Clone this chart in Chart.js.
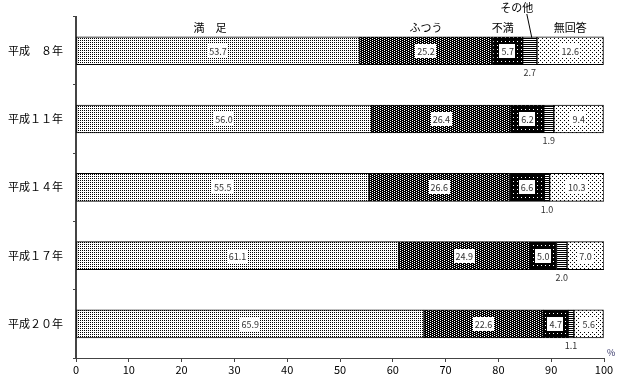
<!DOCTYPE html>
<html>
<head>
<meta charset="utf-8">
<script src="https://cdn.jsdelivr.net/npm/chart.js@4"></script>
<style>
    html, body { margin: 0; padding: 0; background: #fff; }
    #wrap { width: 622px; height: 381px; }
</style>
</head>
<body>
<div id="wrap"><canvas id="satisfactionChart" width="622" height="381"></canvas></div>
<script>
// 満足度の推移（％）
const years = ['平成　８年', '平成１１年', '平成１４年', '平成１７年', '平成２０年'];
const seriesNames = ['満　足', 'ふつう', '不満', 'その他', '無回答'];
const satisfied = [53.7, 56.0, 55.5, 61.1, 65.9];
const normal = [25.2, 26.4, 26.6, 24.9, 22.6];
const dissatisfied = [5.7, 6.2, 6.6, 5.0, 4.7];
const other = [2.7, 1.9, 1.0, 2.0, 1.1];
const noAnswer = [12.6, 9.4, 10.3, 7.0, 5.6];
const xTickStep = 10;

const FONT = '"Noto Sans CJK JP", "DejaVu Sans", sans-serif';

// 網掛けパターンを作る
function makePattern(w, h, bg, fg, dots) {
    const c = document.createElement('canvas');
    c.width = w;
    c.height = h;
    const g = c.getContext('2d');
    g.fillStyle = bg;
    g.fillRect(0, 0, w, h);
    g.fillStyle = fg;
    dots.forEach(([x, y]) => g.fillRect(x, y, 1, 1));
    const ctx = document.createElement('canvas').getContext('2d');
    return ctx.createPattern(c, 'repeat');
}

const patterns = [
    makePattern(2, 2, '#fff', '#000', [[0, 0]]),
    makePattern(4, 2, '#000', '#fff', [[0, 0], [2, 1]]),
    makePattern(4, 4, '#000', '#fff', [[1, 1]]),
    makePattern(1, 2, '#fff', '#000', [[0, 0]]),
    makePattern(4, 4, '#fff', '#000', [[0, 0], [2, 2]])
];

const seriesData = [satisfied, normal, dissatisfied, other, noAnswer];

// 数値ラベル・項目名を描くプラグイン
const labelPlugin = {
    id: 'barLabels',
    afterDatasetsDraw(chart) {
        const ctx = chart.ctx;
        ctx.save();
        ctx.textBaseline = 'middle';
        ctx.textAlign = 'center';

        chart.data.datasets.forEach((ds, i) => {
            const meta = chart.getDatasetMeta(i);
            meta.data.forEach((el, j) => {
                const cx = (el.x + el.base) / 2;
                const text = ds.data[j].toFixed(1);
                ctx.font = '9px ' + FONT;
                if (i === 3) {
                    ctx.fillStyle = '#333';
                    ctx.fillText(text, cx, el.y + el.height / 2 + 8);
                } else {
                    const tw = ctx.measureText(text).width;
                    ctx.fillStyle = '#fff';
                    ctx.fillRect(Math.round(cx - tw / 2 - 2), Math.round(el.y - 7), Math.round(tw + 4), 14);
                    ctx.fillStyle = '#333';
                    ctx.fillText(text, cx, el.y + 0.5);
                }
            });
        });

        // 先頭の行の上に項目名
        ctx.font = '11px ' + FONT;
        ctx.fillStyle = '#000';
        chart.data.datasets.forEach((ds, i) => {
            const el = chart.getDatasetMeta(i).data[0];
            const cx = (el.x + el.base) / 2;
            const top = el.y - el.height / 2;
            if (i === 3) {
                ctx.fillText(ds.label, cx - 13, 8);
                ctx.strokeStyle = '#000';
                ctx.lineWidth = 1;
                ctx.beginPath();
                ctx.moveTo(cx - 3, 14);
                ctx.lineTo(cx + 2, top + 1);
                ctx.stroke();
            } else if (i === 2) {
                ctx.fillText(ds.label, cx - 5, top - 9);
            } else {
                ctx.fillText(ds.label, cx - (i === 0 ? 8 : 0), top - 9);
            }
        });

        // ％ 記号
        const xs = chart.scales.x;
        ctx.font = '9px ' + FONT;
        ctx.fillStyle = '#336';
        ctx.textAlign = 'left';
        ctx.fillText('%', xs.right + 3, xs.top - 5);
        ctx.restore();
    }
};

const chartCtx = document.getElementById('satisfactionChart').getContext('2d');
new Chart(chartCtx, {
    type: 'bar',
    data: {
        labels: years,
        datasets: seriesNames.map((name, i) => ({
            label: name,
            data: seriesData[i],
            backgroundColor: patterns[i],
            borderColor: '#000',
            borderWidth: 1,
            borderSkipped: false,
            barThickness: 28
        }))
    },
    options: {
        indexAxis: 'y',
        responsive: false,
        animation: false,
        layout: { padding: { top: 15, right: 18, left: 0, bottom: 0 } },
        plugins: {
            legend: { display: false },
            tooltip: { enabled: false }
        },
        scales: {
            x: {
                stacked: true,
                min: 0,
                max: 100,
                ticks: {
                    stepSize: xTickStep,
                    color: '#000',
                    font: { family: FONT, size: 11 },
                    padding: 1,
                    maxRotation: 0
                },
                grid: {
                    drawOnChartArea: false,
                    drawTicks: true,
                    tickLength: 4,
                    color: '#444'
                },
                border: { color: '#444', width: 1 },
                afterFit: (scale) => { scale.height = 23; }
            },
            y: {
                stacked: true,
                ticks: {
                    color: '#000',
                    font: { family: FONT, size: 11 },
                    padding: 10
                },
                grid: {
                    offset: true,
                    drawOnChartArea: false,
                    tickLength: 3,
                    color: '#444'
                },
                border: { color: '#444', width: 2 },
                afterFit: (scale) => { scale.width = 76; }
            }
        }
    },
    plugins: [labelPlugin]
});
</script>
</body>
</html>
